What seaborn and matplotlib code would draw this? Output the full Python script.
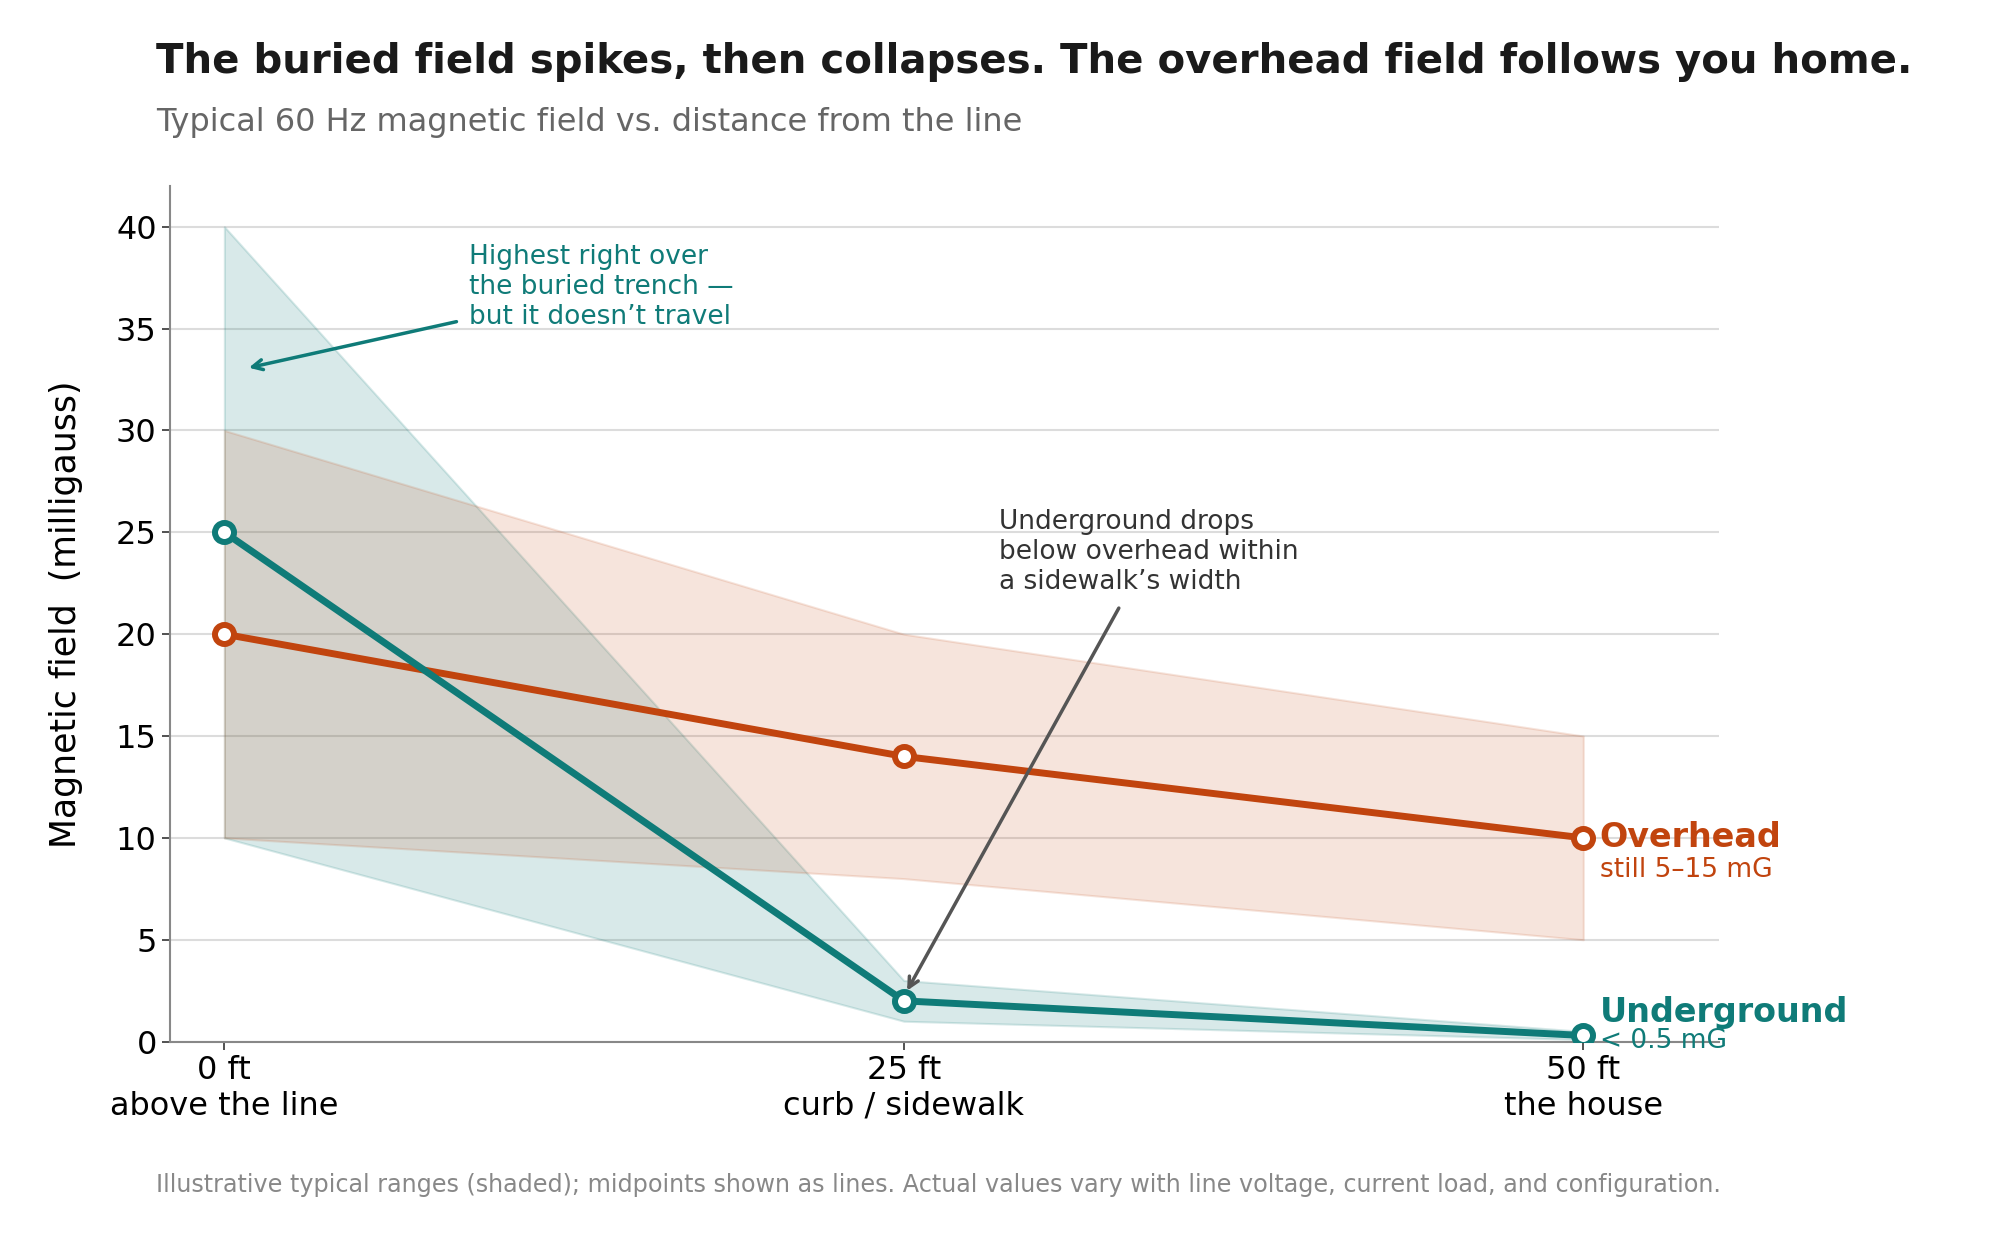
import matplotlib.pyplot as plt
import seaborn as sns
import numpy as np
import pandas as pd

# distances and labels
distance_ft = [0, 25, 50]
tick_labels = ['0 ft\nabove the line', '25 ft\ncurb / sidewalk', '50 ft\nthe house']

# underground: midpoint + typical range (mG)
under_mid = [25, 2, 0.3]
under_lo = [10, 1, 0.1]
under_hi = [40, 3, 0.5]

# overhead: midpoint + typical range (mG)
over_mid = [20, 14, 10]
over_lo = [10, 8, 5]
over_hi = [30, 20, 15]

TEAL = '#0f7b78'
RUST = '#c1440e'

df = pd.DataFrame({
    'distance': distance_ft * 2,
    'field': over_mid + under_mid,
    'type': ['Overhead'] * 3 + ['Underground'] * 3,
})

sns.set_theme(style='white')
plt.rcParams['font.family'] = ['DejaVu Sans']

fig = plt.figure(figsize=(20, 12.4), dpi=100)
ax = fig.add_axes([0.085, 0.160, 0.7746, 0.690])

ax.grid(axis='y', color='#dcdcdc', linewidth=1.5)
ax.set_axisbelow(True)

ax.fill_between(distance_ft, under_lo, under_hi, color=TEAL, alpha=0.16, linewidth=1.5, zorder=1)
ax.fill_between(distance_ft, over_lo, over_hi, color=RUST, alpha=0.14, linewidth=1.5, zorder=1)

sns.lineplot(data=df, x='distance', y='field', hue='type',
             palette={'Overhead': RUST, 'Underground': TEAL},
             linewidth=5, marker='o', markersize=13.7, markerfacecolor='white',
             markeredgewidth=4.3, legend=False, ax=ax, zorder=3)
for line, c in zip(ax.get_lines(), [RUST, TEAL]):
    line.set_markeredgecolor(c)

ax.set_xlim(-2, 55)
ax.set_ylim(0, 42)
ax.set_xticks(distance_ft)
ax.set_xticklabels(tick_labels, fontsize=23)
ax.set_yticks(np.arange(0, 41, 5))
ax.tick_params(axis='y', labelsize=23, length=6, width=1.2, color='#333333', labelcolor='black', left=True)
ax.tick_params(axis='x', length=6, width=1.2, color='#333333', labelcolor='black', bottom=True)
ax.set_xlabel('')
ax.set_ylabel('Magnetic field  (milligauss)', fontsize=25, labelpad=24, color='black')

for s in ['top', 'right']:
    ax.spines[s].set_visible(False)
for s in ['left', 'bottom']:
    ax.spines[s].set_color('#888888')
    ax.spines[s].set_linewidth(1.5)

# end labels
ax.text(50.6, over_mid[-1], 'Overhead', color=RUST, fontsize=24, fontweight='bold', va='center', ha='left')
ax.text(50.6, 8.4, 'still 5–15 mG', color=RUST, fontsize=19, va='center', ha='left')
ax.text(50.6, 1.45, 'Underground', color=TEAL, fontsize=24, fontweight='bold', va='center', ha='left')
ax.text(50.6, 0.05, '< 0.5 mG', color=TEAL, fontsize=19, va='center', ha='left')

# annotations
ax.text(9.0, 39.15, 'Highest right over\nthe buried trench —\nbut it doesn’t travel',
        color=TEAL, fontsize=19, va='top', ha='left', linespacing=1.2)
ax.annotate('', xy=(0.8, 33.05), xytext=(8.64, 35.37),
            arrowprops=dict(arrowstyle='->', color=TEAL, lw=2.5, mutation_scale=18))

ax.text(28.5, 26.15, 'Underground drops\nbelow overhead within\na sidewalk’s width',
        color='#333333', fontsize=19, va='top', ha='left', linespacing=1.2)
ax.annotate('', xy=(25.07, 2.38), xytext=(32.96, 21.4),
            arrowprops=dict(arrowstyle='->', color='#555555', lw=2.5, mutation_scale=18))

fig.text(0.078, 0.95, 'The buried field spikes, then collapses. The overhead field follows you home.',
         fontsize=29, fontweight='bold', color='#1a1a1a', va='center', ha='left')
fig.text(0.078, 0.901, 'Typical 60 Hz magnetic field vs. distance from the line',
         fontsize=23, color='#666666', va='center', ha='left')
fig.text(0.078, 0.0445, 'Illustrative typical ranges (shaded); midpoints shown as lines. '
         'Actual values vary with line voltage, current load, and configuration.',
         fontsize=17.2, color='#888888', va='center', ha='left')

fig.savefig('out.png', dpi=100)
